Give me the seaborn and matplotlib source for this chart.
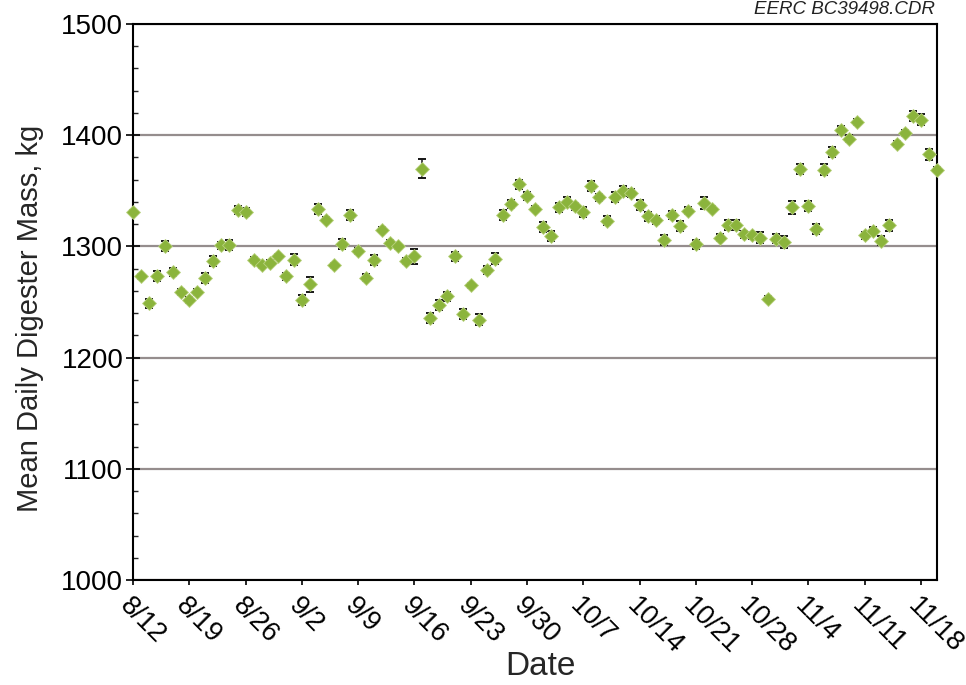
import matplotlib
matplotlib.use("Agg")
import matplotlib.pyplot as plt
import matplotlib.transforms as mtransforms
from matplotlib.ticker import MultipleLocator
import numpy as np
import pandas as pd
import seaborn as sns

# Daily digester mass (kg), one value per day starting 8/12
start_day = "2013-08-12"
mass = [1331, 1273, 1249, 1273, 1300, 1277, 1259, 1252, 1259, 1272,
        1287, 1301, 1301, 1333, 1331, 1288, 1283, 1285, 1291, 1273,
        1288, 1252, 1266, 1334, 1324, 1283, 1302, 1328, 1296, 1272,
        1288, 1315, 1303, 1300, 1287, 1291, 1370, 1236, 1247, 1255,
        1291, 1239, 1265, 1234, 1279, 1289, 1328, 1338, 1356, 1345,
        1334, 1317, 1309, 1335, 1340, 1336, 1331, 1354, 1344, 1323,
        1344, 1350, 1348, 1337, 1327, 1324, 1306, 1328, 1318, 1332,
        1302, 1339, 1334, 1308, 1319, 1319, 1311, 1310, 1308, 1253,
        1307, 1304, 1335, 1370, 1336, 1316, 1369, 1385, 1405, 1397,
        1412, 1310, 1314, 1305, 1319, 1392, 1402, 1417, 1414, 1383,
        1369]
# Standard error of each daily mean (kg)
std_err = [2.0, 2.5, 4.0, 4.5, 4.5, 4.0, 2.5, 2.5, 3.0, 4.5,
           4.5, 3.0, 4.5, 3.5, 3.5, 2.5, 2.5, 2.5, 2.5, 3.5,
           5.0, 4.5, 6.7, 4.5, 2.5, 2.5, 4.5, 4.5, 2.5, 3.0,
           4.5, 2.5, 2.5, 2.5, 2.5, 6.6, 8.2, 4.5, 4.5, 4.0,
           4.0, 4.5, 2.5, 5.0, 3.5, 5.2, 4.5, 3.5, 4.0, 3.5,
           2.5, 4.5, 4.5, 4.0, 4.0, 3.0, 4.5, 4.5, 3.5, 4.0,
           4.5, 4.5, 4.0, 4.5, 4.0, 3.5, 4.5, 3.5, 4.5, 3.0,
           4.0, 5.2, 2.5, 3.0, 4.5, 4.5, 3.0, 3.0, 4.8, 2.5,
           4.0, 5.5, 5.5, 4.5, 4.5, 4.5, 5.0, 4.5, 3.5, 3.0,
           3.0, 3.0, 3.0, 4.0, 5.0, 3.0, 3.0, 4.5, 5.0, 5.0,
           2.5]

tick_labels = ["8/12", "8/19", "8/26", "9/2", "9/9", "9/16", "9/23", "9/30",
               "10/7", "10/14", "10/21", "10/28", "11/4", "11/11", "11/18"]
y_ticks = [1000, 1100, 1200, 1300, 1400, 1500]

dates = pd.date_range(start_day, periods=len(mass), freq="D")
df = pd.DataFrame({"date": dates, "mass": mass, "err": std_err})
tick_dates = pd.date_range(start_day, periods=len(tick_labels), freq="7D")

sns.set_theme(style="ticks")
plt.rcParams["font.family"] = ["Liberation Sans", "DejaVu Sans"]

fig = plt.figure(figsize=(9.66, 6.85), dpi=100)
ax = fig.add_axes([133 / 966, 105 / 685, 804 / 966, 556 / 685])

ax.errorbar(df["date"], df["mass"], yerr=df["err"], fmt="none",
            ecolor="#151515", elinewidth=1.1, capsize=2.9, capthick=1.4,
            zorder=3, clip_on=False)
sns.scatterplot(data=df, x="date", y="mass", marker="D", s=50,
                color="#8BB43C", edgecolor="#b9d27f", linewidth=0.6,
                zorder=4, ax=ax, clip_on=False)

ax.set_xlim(dates[0], dates[-1])
ax.set_ylim(1000, 1500)
ax.set_yticks(y_ticks)
ax.yaxis.set_minor_locator(MultipleLocator(20))
ax.set_xticks(tick_dates)
ax.set_xticklabels(tick_labels, rotation=-45, ha="left", va="top",
                   rotation_mode="anchor")
# nudge the slanted date labels a little to the left of their ticks
shift = mtransforms.ScaledTranslation(-7 / 100, 0, fig.dpi_scale_trans)
for lab in ax.get_xticklabels():
    lab.set_transform(lab.get_transform() + shift)

ax.yaxis.grid(True, which="major", color="#958d8d", linewidth=1.6)
ax.xaxis.grid(False)
ax.set_axisbelow(True)

for side in ["left", "right", "top", "bottom"]:
    ax.spines[side].set_visible(True)
    ax.spines[side].set_color("black")
    ax.spines[side].set_linewidth(1.5)

ax.tick_params(axis="y", which="major", direction="inout", length=10,
               width=1.2, labelsize=20, pad=2, colors="black")
ax.tick_params(axis="y", which="minor", direction="in", length=3.6,
               width=1.0, left=True)
ax.tick_params(axis="x", which="major", direction="out", length=3.6,
               width=1.2, labelsize=19.5, pad=6, colors="black")

ax.set_ylabel("Mean Daily Digester Mass, kg", fontsize=21)
ax.yaxis.set_label_coords(-0.111, 0.471)
ax.set_xlabel("Date", fontsize=24)
ax.xaxis.set_label_coords(0.507, -0.127)

fig.text(935 / 966, 1 - 10 / 685, "EERC BC39498.CDR", ha="right",
         va="center", fontsize=13.5, fontstyle="italic", color="#222222")

fig.savefig("out.png", dpi=100, facecolor="white")
